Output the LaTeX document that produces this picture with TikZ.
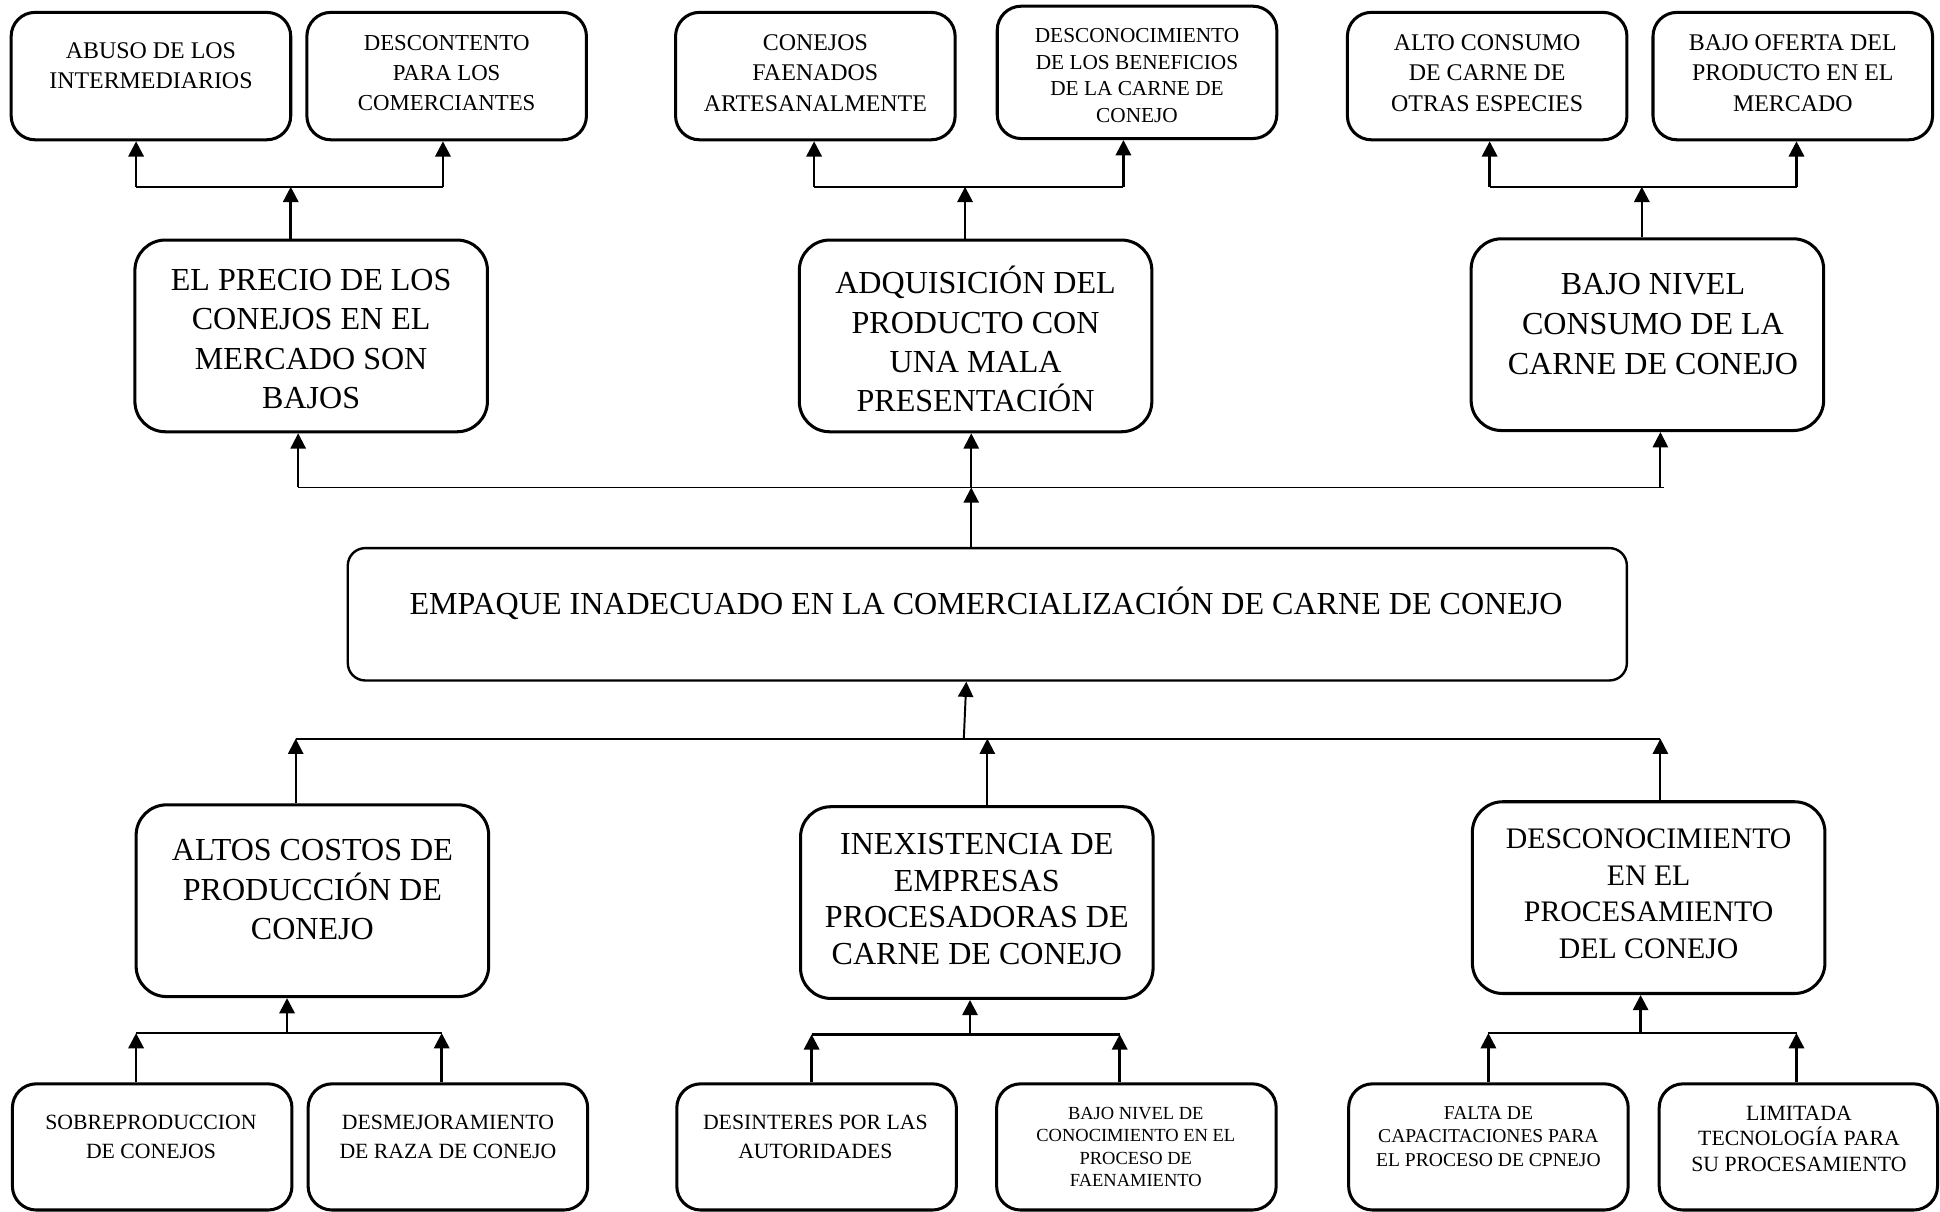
\documentclass[tikz,border=0pt]{standalone}
\usepackage{fontspec}
\setmainfont{Liberation Serif}
\usetikzlibrary{arrows.meta}

\newcommand{\fs}[2]{\fontsize{#1}{#2}\selectfont}

\tikzset{
  box/.style={draw, line width=1.4pt, rounded corners=11pt, inner sep=0pt,
              minimum width=4.52cm, minimum height=2.06cm},
  bigbox/.style={draw, line width=1.4pt, rounded corners=14pt, inner sep=0pt,
              minimum width=5.7cm, minimum height=3.1cm},
  corebox/.style={draw, line width=1.1pt, rounded corners=8pt, inner sep=0pt,
              minimum width=20.68cm, minimum height=2.14cm},
  txt/.style={align=center, inner sep=0pt},
  link/.style={line width=1.1pt},
  arr/.style={line width=1.2pt, -{Triangle[width=7pt,length=7pt]}},
  thinlink/.style={line width=0.8pt},
  thinarr/.style={line width=0.9pt, -{Triangle[width=7pt,length=7pt]}},
}

\begin{document}
\begin{tikzpicture}[x=0.02cm, y=-0.02cm]
\useasboundingbox (0,0) rectangle (1568,979);

% ---------- effects (top row) ----------
\node[box] (b1) at (122,61.5) {};
\node[box] (b2) at (361,61.5) {};
\node[box] (b3) at (659,61.5) {};
\node[box, minimum height=2.14cm] (b4) at (919,58.5) {};
\node[box] (b5) at (1202,61.5) {};
\node[box] (b6) at (1449,61.5) {};

\node[txt, font=\fs{11}{13.9}] (b1t) at (122,53) {ABUSO DE LOS\\INTERMEDIARIOS};
\node[txt, font=\fs{10.5}{13.9}] (b2t) at (361,59) {DESCONTENTO\\PARA LOS\\COMERCIANTES};
\node[txt, font=\fs{11}{13.9}] (b3t) at (659,59) {CONEJOS\\FAENADOS\\ARTESANALMENTE};
\node[txt, font=\fs{9.8}{12.3}] (b4t) at (919,61) {DESCONOCIMIENTO\\DE LOS BENEFICIOS\\DE LA CARNE DE\\CONEJO};
\node[txt, font=\fs{11}{13.9}] (b5t) at (1202,59) {ALTO CONSUMO\\DE CARNE DE\\OTRAS ESPECIES};
\node[txt, font=\fs{11}{13.9}] (b6t) at (1449,59) {BAJO OFERTA DEL\\PRODUCTO EN EL\\MERCADO};

% ---------- main effects ----------
\node[bigbox] (m1) at (251.5,271.5) {};
\node[bigbox] (m2) at (788.5,271.5) {};
\node[bigbox] (m3) at (1331.5,270.5) {};

\node[txt, font=\fs{14.75}{18}] (m1t) at (251.5,274) {EL PRECIO DE LOS\\CONEJOS EN EL\\MERCADO SON\\BAJOS};
\node[txt, font=\fs{14.75}{18}] (m2t) at (788.5,274) {ADQUISICIÓN DEL\\PRODUCTO CON\\UNA MALA\\PRESENTACIÓN};
\node[txt, font=\fs{14.75}{18.4}] (m3t) at (1336,262) {BAJO NIVEL\\CONSUMO DE LA\\CARNE DE CONEJO};

% ---------- central problem ----------
\node[corebox] (c) at (798,496.5) {};
\node[txt, font=\fs{14.75}{18}] (ct) at (797,488) {EMPAQUE INADECUADO EN LA COMERCIALIZACIÓN DE CARNE DE CONEJO};

% ---------- main causes ----------
\node[bigbox] (m4) at (252.5,728) {};
\node[bigbox] (m5) at (789.5,729.5) {};
\node[bigbox] (m6) at (1332.5,725.5) {};

\node[txt, font=\fs{14.75}{18.1}] (m4t) at (252.5,719) {ALTOS COSTOS DE\\PRODUCCIÓN DE\\CONEJO};
\node[txt, font=\fs{14.75}{16.8}] (m5t) at (789.5,726.5) {INEXISTENCIA DE\\EMPRESAS\\PROCESADORAS DE\\CARNE DE CONEJO};
\node[txt, font=\fs{13.7}{16.8}] (m6t) at (1332.5,722.5) {DESCONOCIMIENTO\\EN EL\\PROCESAMIENTO\\DEL CONEJO};

% ---------- root causes (bottom row) ----------
\node[box, minimum height=2.04cm] (l1) at (123,927) {};
\node[box, minimum height=2.04cm] (l2) at (362,927) {};
\node[box, minimum height=2.04cm] (l3) at (660,927) {};
\node[box, minimum height=2.04cm] (l4) at (918.5,927) {};
\node[box, minimum height=2.04cm] (l5) at (1203,927) {};
\node[box, minimum height=2.04cm, minimum width=4.5cm] (l6) at (1453.5,927) {};

\node[txt, font=\fs{10}{13}] (l1t) at (122,919) {SOBREPRODUCCION\\DE CONEJOS};
\node[txt, font=\fs{10}{13}] (l2t) at (362,919) {DESMEJORAMIENTO\\DE RAZA DE CONEJO};
\node[txt, font=\fs{10}{13}] (l3t) at (659,919) {DESINTERES POR LAS\\AUTORIDADES};
\node[txt, font=\fs{8.5}{10.4}] (l4t) at (918,927) {BAJO NIVEL DE\\CONOCIMIENTO EN EL\\PROCESO DE\\FAENAMIENTO};
\node[txt, font=\fs{9}{10.8}] (l5t) at (1203,918.5) {FALTA DE\\CAPACITACIONES PARA\\EL PROCESO DE CPNEJO};
\node[txt, font=\fs{10}{11.8}] (l6t) at (1454,920.5) {LIMITADA\\TECNOLOGÍA PARA\\SU PROCESAMIENTO};

% ---------- junction points ----------
\coordinate (ja)  at (235,151);  \coordinate (jal) at (110,151);  \coordinate (jar) at (358,151);
\coordinate (jm)  at (780,151);  \coordinate (jml) at (658,151);  \coordinate (jmr) at (908,151);
\coordinate (jr)  at (1327,151); \coordinate (jrl) at (1204,151); \coordinate (jrr) at (1452,151);

\coordinate (ju)  at (785,394);  \coordinate (jul) at (241,394);  \coordinate (jur) at (1345,394);
\coordinate (ju3) at (1342,394);

\coordinate (jd)  at (779,597);  \coordinate (jdl) at (239,597);  \coordinate (jdr) at (1342,597);
\coordinate (jdm) at (798,597);  \coordinate (jdc) at (781,597);

\coordinate (jb)  at (232,835);  \coordinate (jbl) at (110,835);  \coordinate (jbr) at (357,835);
\coordinate (jc)  at (784,836);  \coordinate (jcl) at (656,836);  \coordinate (jcr) at (905,836);
\coordinate (je)  at (1326,835); \coordinate (jel) at (1203,835); \coordinate (jer) at (1452,835);

% ---------- connectors: effects ----------
\draw[arr] (m1.north -| ja) -- (ja);
\draw[link] (jal) -- (jar);
\draw[arr] (jal) -- (b1.south -| jal);
\draw[arr] (jar) -- (b2.south -| jar);

\draw[arr] (m2.north -| jm) -- (jm);
\draw[link] (jml) -- (jmr);
\draw[arr] (jml) -- (b3.south -| jml);
\draw[arr] (jmr) -- (b4.south -| jmr);

\draw[arr] (m3.north -| jr) -- (jr);
\draw[link] (jrl) -- (jrr);
\draw[arr] (jrl) -- (b5.south -| jrl);
\draw[arr] (jrr) -- (b6.south -| jrr);

% ---------- connectors: central problem ----------
\draw[thinlink] (jul) -- (jur);
\draw[thinarr] (c.north -| ju) -- (ju);
\draw[thinarr] (jul) -- (m1.south -| jul);
\draw[thinarr] (ju) -- (m2.south -| ju);
\draw[thinarr] (ju3) -- (m3.south -| ju3);

\draw[thinlink] (jdl) -- (jdr);
\draw[thinarr] (jd) -- (c.south -| jdc);
\draw[thinarr] (m4.north -| jdl) -- (jdl);
\draw[thinarr] (m5.north -| jdm) -- (jdm);
\draw[thinarr] (m6.north -| jdr) -- (jdr);

% ---------- connectors: causes ----------
\draw[link] (jbl) -- (jbr);
\draw[arr] (jb) -- (m4.south -| jb);
\draw[arr] (l1.north -| jbl) -- (jbl);
\draw[arr] (l2.north -| jbr) -- (jbr);

\draw[link] (jcl) -- (jcr);
\draw[arr] (jc) -- (m5.south -| jc);
\draw[arr] (l3.north -| jcl) -- (jcl);
\draw[arr] (l4.north -| jcr) -- (jcr);

\draw[link] (jel) -- (jer);
\draw[arr] (je) -- (m6.south -| je);
\draw[arr] (l5.north -| jel) -- (jel);
\draw[arr] (l6.north -| jer) -- (jer);
\end{tikzpicture}
\end{document}
